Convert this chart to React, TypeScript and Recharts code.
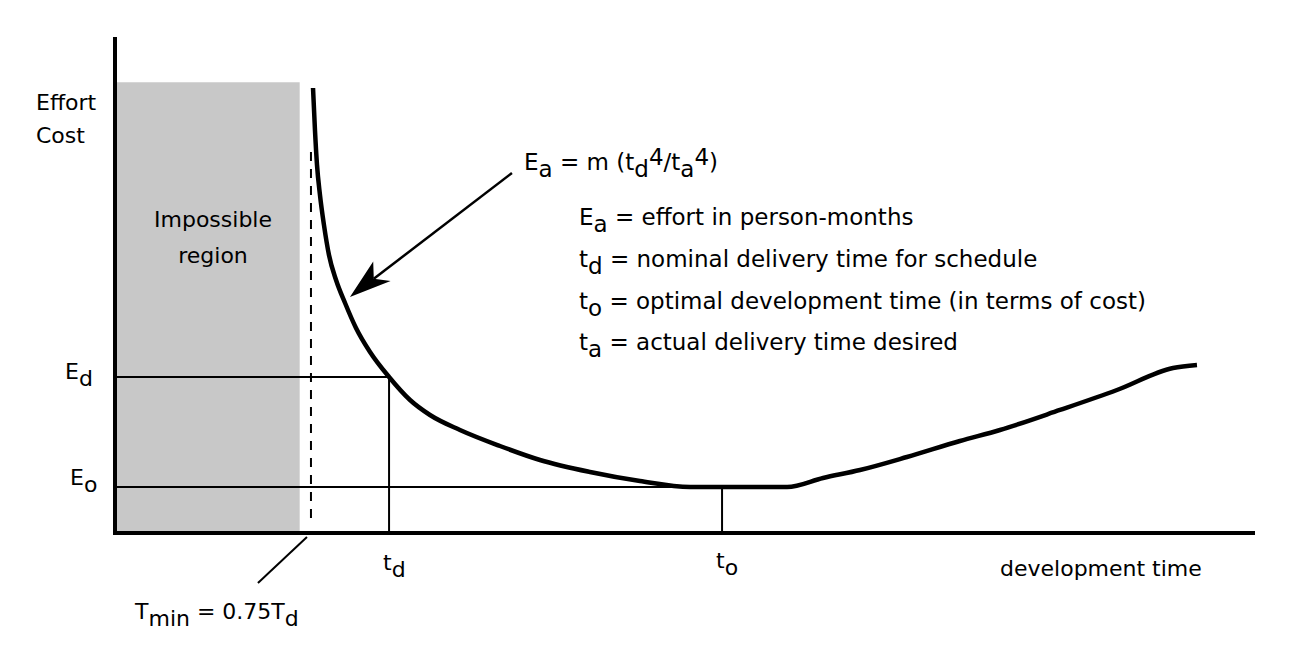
import React from "react";
import {
  ComposedChart,
  Line,
  XAxis,
  YAxis,
  ReferenceLine,
  ReferenceArea,
} from "recharts";

// ---- data (domain units: time 0..100, effort 0..100) ----
const curveTime = [
  17.37, 17.54, 17.72, 17.98, 18.33, 18.77, 19.39, 20.18, 21.14, 22.37, 24.04,
  25.88, 27.63, 30.26, 33.77, 37.28, 41.67, 46.05, 50.44, 53.25, 58.95, 62.11,
  65.35, 69.47, 74.12, 77.63, 82.89, 87.89, 92.81, 94.91,
];
const curveEffort = [
  89.72, 81.25, 74.19, 68.15, 62.1, 56.05, 51.01, 46.37, 41.33, 36.49, 31.45,
  26.81, 23.79, 20.77, 17.54, 14.72, 12.3, 10.48, 9.27, 9.27, 9.27, 11.09,
  12.7, 15.32, 18.55, 20.77, 24.8, 28.83, 33.27, 33.87,
];
const tNominal = 24.04;
const eNominal = 31.45;
const tOptimal = 53.25;
const eOptimal = 9.27;
const tMin = 17.19;
const tMinTop = 77.6;
const tMinBottom = 3.0;
const impossibleEnd = 16.2;
const impossibleTop = 90.9;
const arrowFrom = { t: 34.82, e: 72.58 };
const arrowTo = { t: 20.61, e: 47.58 };
const leaderFrom = { t: 16.84, e: -0.8 };
const leaderTo = { t: 12.54, e: -10.08 };

const curveData = curveTime.map((t, i) => ({ t, e: curveEffort[i] }));

const W = 1282;
const H = 640;
const FONT = "'DejaVu Sans', sans-serif";

const ArrowShape = (props: any) => {
  const { x1, y1, x2, y2 } = props;
  if ([x1, y1, x2, y2].some((v) => v == null || isNaN(v))) return null;
  const dx = x1 - x2;
  const dy = y1 - y2;
  const len = Math.sqrt(dx * dx + dy * dy) || 1;
  const ux = dx / len;
  const uy = dy / len;
  const nx = -uy;
  const ny = ux;
  const p = (a: number, b: number) =>
    `${x2 + ux * a + nx * b},${y2 + uy * a + ny * b}`;
  return (
    <g>
      <line
        x1={x1}
        y1={y1}
        x2={x2 + ux * 30}
        y2={y2 + uy * 30}
        stroke="#000"
        strokeWidth={2.5}
      />
      <polygon
        points={[p(0, 0), p(42, 12), p(30, 0), p(40, -14)].join(" ")}
        fill="#000"
      />
    </g>
  );
};

export default function App() {
  const txt = { fontFamily: FONT, fontSize: 22, fill: "#000" } as const;
  const big = { fontSize: 23 } as const;
  return (
    <div style={{ position: "relative", width: W, height: H }}>
      <ComposedChart
        width={W}
        height={H}
        data={curveData}
        margin={{ top: 29, right: 35, bottom: 115, left: 107 }}
      >
        <XAxis type="number" dataKey="t" domain={[0, 100]} hide />
        <YAxis type="number" domain={[0, 100]} hide />
        <ReferenceArea
          x1={0}
          x2={impossibleEnd}
          y1={0}
          y2={impossibleTop}
          fill="#c8c8c8"
          fillOpacity={1}
          stroke="none"
          ifOverflow="visible"
        />
        <ReferenceLine
          segment={[
            { x: tMin, y: tMinBottom },
            { x: tMin, y: tMinTop },
          ]}
          stroke="#000"
          strokeWidth={2}
          strokeDasharray="9 8"
          ifOverflow="visible"
        />
        <ReferenceLine
          segment={[
            { x: 0, y: eNominal },
            { x: tNominal, y: eNominal },
          ]}
          stroke="#000"
          strokeWidth={2}
          ifOverflow="visible"
        />
        <ReferenceLine
          segment={[
            { x: tNominal, y: 0 },
            { x: tNominal, y: eNominal },
          ]}
          stroke="#000"
          strokeWidth={2}
          ifOverflow="visible"
        />
        <ReferenceLine
          segment={[
            { x: 0, y: eOptimal },
            { x: tOptimal, y: eOptimal },
          ]}
          stroke="#000"
          strokeWidth={2}
          ifOverflow="visible"
        />
        <ReferenceLine
          segment={[
            { x: tOptimal, y: 0 },
            { x: tOptimal, y: eOptimal },
          ]}
          stroke="#000"
          strokeWidth={2}
          ifOverflow="visible"
        />
        <ReferenceLine
          segment={[
            { x: leaderFrom.t, y: leaderFrom.e },
            { x: leaderTo.t, y: leaderTo.e },
          ]}
          stroke="#000"
          strokeWidth={2}
          ifOverflow="visible"
        />
        <ReferenceLine
          segment={[
            { x: arrowFrom.t, y: arrowFrom.e },
            { x: arrowTo.t, y: arrowTo.e },
          ]}
          shape={ArrowShape}
          ifOverflow="visible"
        />
        <ReferenceLine
          segment={[
            { x: 0, y: 0 },
            { x: 100, y: 0 },
          ]}
          stroke="#000"
          strokeWidth={4}
          ifOverflow="visible"
        />
        <ReferenceLine
          segment={[
            { x: 0, y: -0.4 },
            { x: 0, y: 100 },
          ]}
          stroke="#000"
          strokeWidth={4}
          ifOverflow="visible"
        />
        <Line
          type="monotone"
          dataKey="e"
          stroke="#000"
          strokeWidth={4.5}
          strokeLinejoin="round"
          dot={false}
          activeDot={false}
          isAnimationActive={false}
        />
      </ComposedChart>
      <svg
        width={W}
        height={H}
        style={{ position: "absolute", left: 0, top: 0, pointerEvents: "none" }}
      >
        <g {...txt}>
          <text x={28} y={102}>Effort</text>
          <text x={28} y={135}>Cost</text>
          <text x={205} y={219} textAnchor="middle">Impossible</text>
          <text x={205} y={255} textAnchor="middle">region</text>
          <text x={516} y={162} {...big}>
            <tspan>E</tspan>
            <tspan dy={7}>a</tspan>
            <tspan dy={-7}> = m (t</tspan>
            <tspan dy={7}>d</tspan>
            <tspan dy={-12}>4</tspan>
            <tspan dy={5}>/t</tspan>
            <tspan dy={7}>a</tspan>
            <tspan dy={-12}>4</tspan>
            <tspan dy={5}>)</tspan>
          </text>
          <text x={571} y={217} {...big}>
            <tspan>E</tspan>
            <tspan dy={7}>a</tspan>
            <tspan dy={-7}> = effort in person-months</tspan>
          </text>
          <text x={571} y={259} {...big}>
            <tspan>t</tspan>
            <tspan dy={7}>d</tspan>
            <tspan dy={-7}> = nominal delivery time for schedule</tspan>
          </text>
          <text x={571} y={301} {...big}>
            <tspan>t</tspan>
            <tspan dy={7}>o</tspan>
            <tspan dy={-7}> = optimal development time (in terms of cost)</tspan>
          </text>
          <text x={571} y={342} {...big}>
            <tspan>t</tspan>
            <tspan dy={7}>a</tspan>
            <tspan dy={-7}> = actual delivery time desired</tspan>
          </text>
          <text x={57} y={371}>
            <tspan>E</tspan>
            <tspan dy={7}>d</tspan>
          </text>
          <text x={62} y={477}>
            <tspan>E</tspan>
            <tspan dy={7}>o</tspan>
          </text>
          <text x={375} y={562}>
            <tspan>t</tspan>
            <tspan dy={7}>d</tspan>
          </text>
          <text x={708} y={560}>
            <tspan>t</tspan>
            <tspan dy={7}>o</tspan>
          </text>
          <text x={992} y={568}>development time</text>
          <text x={127} y={611}>
            <tspan>T</tspan>
            <tspan dy={7}>min</tspan>
            <tspan dy={-7}> = 0.75T</tspan>
            <tspan dy={7}>d</tspan>
          </text>
        </g>
      </svg>
    </div>
  );
}
